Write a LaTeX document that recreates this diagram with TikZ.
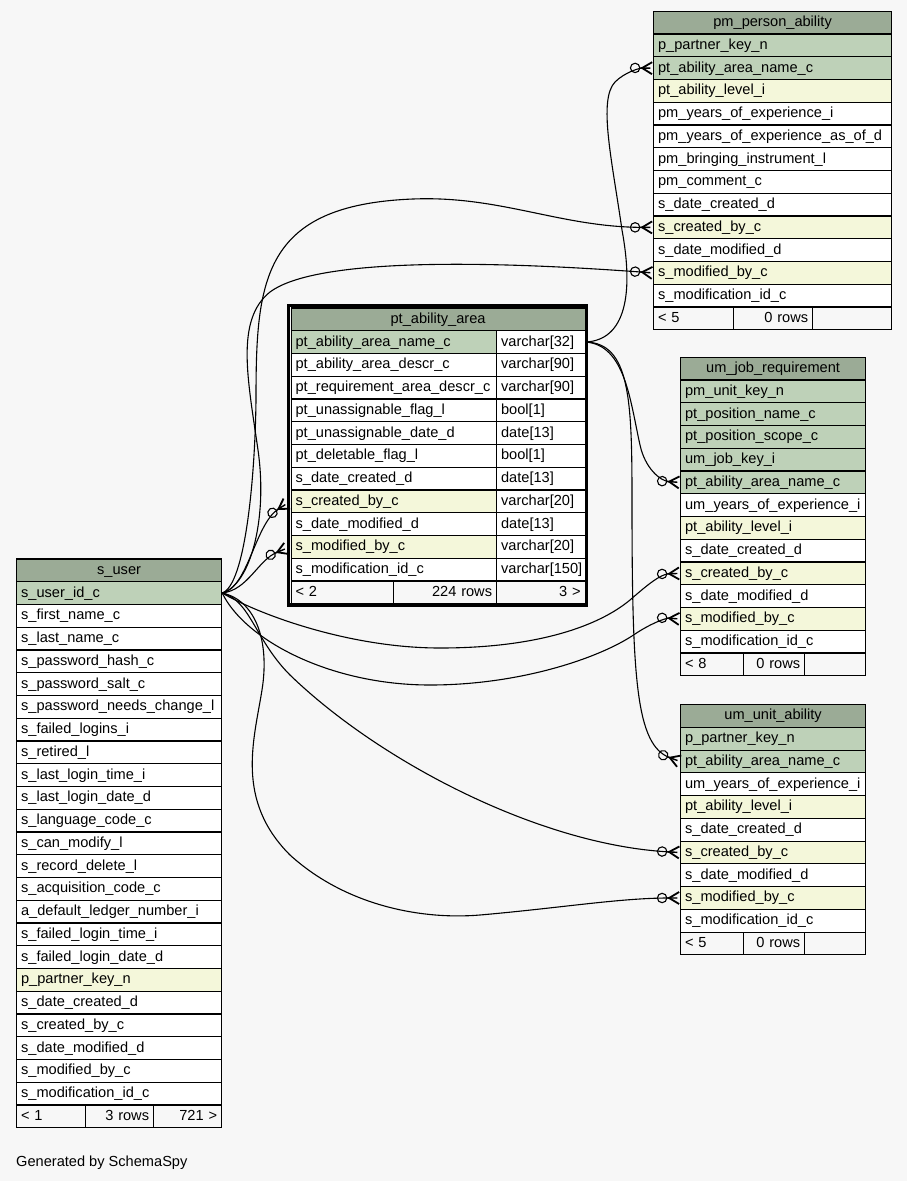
\documentclass[tikz,border=0pt]{standalone}
\usepackage{fontspec}
\setmainfont{Liberation Sans}
\usetikzlibrary{arrows.meta}
\definecolor{headgreen}{HTML}{9BAB96}
\definecolor{pkgreen}{HTML}{BED1B8}
\definecolor{fkyellow}{HTML}{F4F7DA}
\definecolor{bggray}{HTML}{F7F7F7}
\newcommand{\tablefont}{\fontsize{14.6pt}{17pt}\selectfont}
\tikzset{
  rowcell/.style={draw=black, line width=1.2pt, anchor=north west, inner xsep=4.5pt, inner ysep=0pt,
    minimum height=22.75pt, text height=10.8pt, text depth=2.8pt, align=left, font=\tablefont},
  headrow/.style={fill=headgreen, align=center},
  pkrow/.style={fill=pkgreen},
  fkrow/.style={fill=fkyellow},
  plainrow/.style={fill=white},
  footrow/.style={fill=bggray},
  fkline/.style={line width=1.1pt, -{Circle[open,length=10.5pt,width=10.5pt,line width=1.1pt]
    Rectangle[length=10pt,width=1.4pt,sep=-10pt]
    Straight Barb[reversed,length=10pt,width=12pt,line width=1.8pt]}}
}
\begin{document}
\begin{tikzpicture}[x=1pt, y=-1pt]
\useasboundingbox (0,0) rectangle (907,1181);
\fill[bggray] (0,0) rectangle (907,1181);

% s_user
\node[rowcell, headrow, text width=196pt] (user-h) at (16,558.3) {s\_user};
\foreach \txt/\kind [count=\i] in {s\_user\_id\_c/pkrow, s\_first\_name\_c/plainrow, s\_last\_name\_c/plainrow,
  s\_password\_hash\_c/plainrow, s\_password\_salt\_c/plainrow, s\_password\_needs\_change\_l/plainrow,
  s\_failed\_logins\_i/plainrow, s\_retired\_l/plainrow, s\_last\_login\_time\_i/plainrow,
  s\_last\_login\_date\_d/plainrow, s\_language\_code\_c/plainrow, s\_can\_modify\_l/plainrow,
  s\_record\_delete\_l/plainrow, s\_acquisition\_code\_c/plainrow, a\_default\_ledger\_number\_i/plainrow,
  s\_failed\_login\_time\_i/plainrow, s\_failed\_login\_date\_d/plainrow, p\_partner\_key\_n/fkrow,
  s\_date\_created\_d/plainrow, s\_created\_by\_c/plainrow, s\_date\_modified\_d/plainrow,
  s\_modified\_by\_c/plainrow, s\_modification\_id\_c/plainrow}
  \node[rowcell, \kind, text width=196pt] (user-\i) at (16,{558.3+\i*22.75}) {\txt};
\node[rowcell, footrow, text width=60pt] (user-f1) at (16,1104.3) {< 1};
\node[rowcell, footrow, text width=59pt, align=right] (user-f2) at (85,1104.3) {3 rows};
\node[rowcell, footrow, text width=59pt, align=right] (user-f3) at (153,1104.3) {721 >};

% pt_ability_area
\node[rowcell, headrow, text width=285pt] (area-h) at (290.5,307.3) {pt\_ability\_area};
\foreach \txt/\kind/\dtype [count=\i] in {pt\_ability\_area\_name\_c/pkrow/varchar[32],
  pt\_ability\_area\_descr\_c/plainrow/varchar[90], pt\_requirement\_area\_descr\_c/plainrow/varchar[90],
  pt\_unassignable\_flag\_l/plainrow/bool[1], pt\_unassignable\_date\_d/plainrow/date[13],
  pt\_deletable\_flag\_l/plainrow/bool[1], s\_date\_created\_d/plainrow/date[13],
  s\_created\_by\_c/fkrow/varchar[20], s\_date\_modified\_d/plainrow/date[13],
  s\_modified\_by\_c/fkrow/varchar[20], s\_modification\_id\_c/plainrow/varchar[150]}
{
  \node[rowcell, \kind, text width=196.5pt] (area-\i) at (290.5,{307.3+\i*22.75}) {\txt};
  \node[rowcell, plainrow, text width=79.5pt] (area-t\i) at (496,{307.3+\i*22.75}) {\dtype};
}
\node[rowcell, footrow, text width=93.5pt] (area-f1) at (290.5,580.3) {< 2};
\node[rowcell, footrow, text width=94pt, align=right] (area-f2) at (393,580.3) {224 rows};
\node[rowcell, footrow, text width=79.5pt, align=right] (area-f3) at (496,580.3) {3 >};
\draw[line width=3.3pt] (288.8,305.6) rectangle (586.2,604.9);

% pm_person_ability
\node[rowcell, headrow, text width=229pt] (person-h) at (653,10.7) {pm\_person\_ability};
\foreach \txt/\kind [count=\i] in {p\_partner\_key\_n/pkrow, pt\_ability\_area\_name\_c/pkrow,
  pt\_ability\_level\_i/fkrow, pm\_years\_of\_experience\_i/plainrow,
  pm\_years\_of\_experience\_as\_of\_d/plainrow, pm\_bringing\_instrument\_l/plainrow,
  pm\_comment\_c/plainrow, s\_date\_created\_d/plainrow, s\_created\_by\_c/fkrow,
  s\_date\_modified\_d/plainrow, s\_modified\_by\_c/fkrow, s\_modification\_id\_c/plainrow}
  \node[rowcell, \kind, text width=229pt] (person-\i) at (653,{10.7+\i*22.75}) {\txt};
\node[rowcell, footrow, text width=71pt] (person-f1) at (653,306.45) {< 5};
\node[rowcell, footrow, text width=70pt, align=right] (person-f2) at (733,306.45) {0 rows};
\node[rowcell, footrow, text width=70pt] (person-f3) at (812,306.45) {};

% um_job_requirement
\node[rowcell, headrow, text width=176pt] (job-h) at (680,356.7) {um\_job\_requirement};
\foreach \txt/\kind [count=\i] in {pm\_unit\_key\_n/pkrow, pt\_position\_name\_c/pkrow,
  pt\_position\_scope\_c/pkrow, um\_job\_key\_i/pkrow, pt\_ability\_area\_name\_c/pkrow,
  um\_years\_of\_experience\_i/plainrow, pt\_ability\_level\_i/fkrow, s\_date\_created\_d/plainrow,
  s\_created\_by\_c/fkrow, s\_date\_modified\_d/plainrow, s\_modified\_by\_c/fkrow,
  s\_modification\_id\_c/plainrow}
  \node[rowcell, \kind, text width=176pt] (job-\i) at (680,{356.7+\i*22.75}) {\txt};
\node[rowcell, footrow, text width=54pt] (job-f1) at (680,652.45) {< 8};
\node[rowcell, footrow, text width=52pt, align=right] (job-f2) at (743,652.45) {0 rows};
\node[rowcell, footrow, text width=52pt] (job-f3) at (804,652.45) {};

% um_unit_ability
\node[rowcell, headrow, text width=176pt] (unit-h) at (680,704) {um\_unit\_ability};
\foreach \txt/\kind [count=\i] in {p\_partner\_key\_n/pkrow, pt\_ability\_area\_name\_c/pkrow,
  um\_years\_of\_experience\_i/plainrow, pt\_ability\_level\_i/fkrow, s\_date\_created\_d/plainrow,
  s\_created\_by\_c/fkrow, s\_date\_modified\_d/plainrow, s\_modified\_by\_c/fkrow,
  s\_modification\_id\_c/plainrow}
  \node[rowcell, \kind, text width=176pt] (unit-\i) at (680,{704+\i*22.75}) {\txt};
\node[rowcell, footrow, text width=54pt] (unit-f1) at (680,931.5) {< 5};
\node[rowcell, footrow, text width=52pt, align=right] (unit-f2) at (743,931.5) {0 rows};
\node[rowcell, footrow, text width=52pt] (unit-f3) at (804,931.5) {};

\node[anchor=base west, inner sep=0pt, font=\tablefont] (credit) at (16,1166.5) {Generated by SchemaSpy};

% relationships
\draw[fkline] (area-t1.east) .. controls (625,340) and (634,295) .. (622,230)
  .. controls (612,160) and (598,100) .. (615,82) .. controls (625,72) and (640,68) .. (person-2.west);
\draw[fkline] (area-t1.east) .. controls (625,345) and (630,400) .. (640,445)
  .. controls (645,468) and (660,481) .. (job-5.west);
\draw[fkline] (area-t1.east) .. controls (630,343) and (632,400) .. (632,500)
  .. controls (632,680) and (636,745) .. (unit-2.west);
\draw[fkline, shorten >=3.5pt] (user-1.east) .. controls (248,588) and (255,524) .. (area-8.west);
\draw[fkline, shorten >=3.5pt] (user-1.east) .. controls (248,590) and (258,560) .. (area-10.west);
\draw[fkline] (user-1.east) .. controls (245,585) and (255,480) .. (256,400)
  .. controls (256,280) and (262,205) .. (413,199) .. controls (500,195.5) and (560,227) .. (person-9.west);
\draw[fkline] (user-1.east) .. controls (250,585) and (268,520) .. (258,450)
  .. controls (248,380) and (235,320) .. (270,292) .. controls (310,262) and (450,258) .. (person-11.west);
\draw[fkline] (user-1.east) .. controls (260,615) and (350,648) .. (440,648)
  .. controls (540,648) and (600,625) .. (630,600) .. controls (645,587) and (660,574) .. (job-9.west);
\draw[fkline] (user-1.east) .. controls (245,640) and (330,685) .. (430,685)
  .. controls (520,685) and (600,658) .. (635,634) .. controls (650,624) and (665,618) .. (job-11.west);
\draw[fkline] (user-1.east) .. controls (250,600) and (255,640) .. (290,675)
  .. controls (380,762) and (540,845) .. (unit-6.west);
\draw[fkline] (user-1.east) .. controls (255,600) and (270,640) .. (262,690)
  .. controls (254,740) and (235,800) .. (290,855) .. controls (345,905) and (420,920) .. (480,915)
  .. controls (560,908) and (620,898) .. (unit-8.west);
\end{tikzpicture}
\end{document}
